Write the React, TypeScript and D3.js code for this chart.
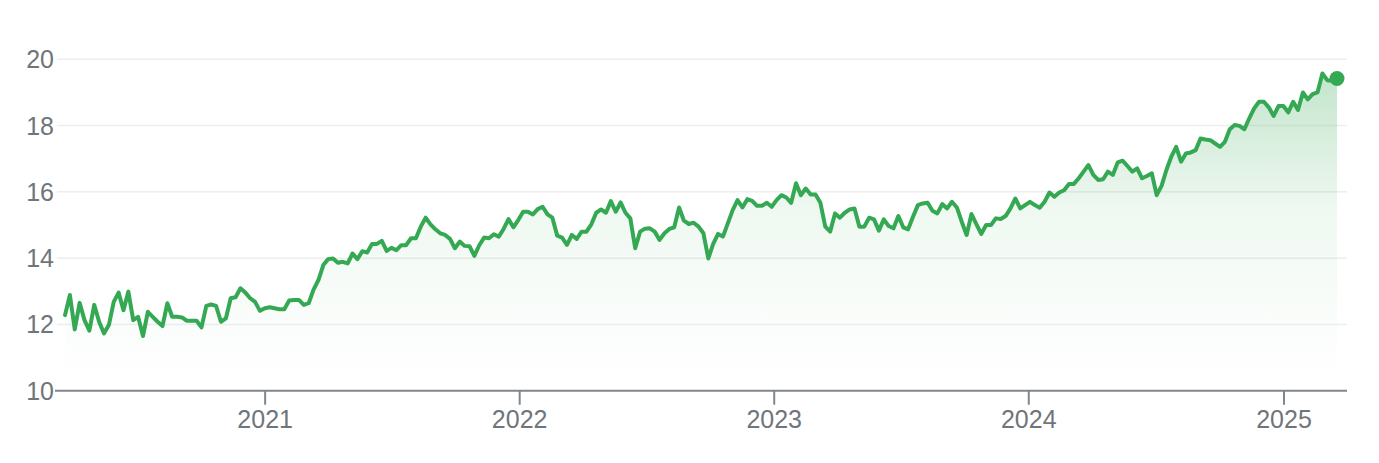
import React from "react";
import * as d3 from "d3";

// Weekly closing values (Mar 2020 -> Mar 2025)
const startDate = "2020-03-20";
const endDate = "2025-03-18";

const values2020: number[] = [
  12.28, 12.89, 11.85, 12.65, 12.13, 11.81, 12.59, 12.08, 11.73, 11.98,
  12.68, 12.96, 12.43, 12.99, 12.13, 12.23, 11.65, 12.38, 12.23, 12.08,
  11.95, 12.64, 12.23, 12.23, 12.21, 12.11, 12.11, 12.11, 11.91, 12.56,
  12.6, 12.56, 12.08, 12.18, 12.79, 12.82, 13.09, 12.96, 12.79, 12.68,
  12.41, 12.49, 12.52, 12.49, 12.46, 12.46, 12.72, 12.74, 12.74, 12.59,
  12.64, 13.05,
];
const values2021: number[] = [
  13.34, 13.79, 13.97, 13.99, 13.86, 13.89, 13.84, 14.14, 13.97, 14.21,
  14.17, 14.43, 14.43, 14.52, 14.22, 14.31, 14.24, 14.39, 14.39, 14.6,
  14.6, 14.95, 15.22, 15.02, 14.87, 14.75, 14.7, 14.58, 14.3, 14.5,
  14.37, 14.36, 14.07, 14.39, 14.62, 14.6, 14.72, 14.65, 14.88, 15.18,
  14.93, 15.15, 15.4, 15.4, 15.32, 15.48, 15.55, 15.32, 15.22, 14.68,
  14.62,
];
const values2022: number[] = [
  14.4, 14.7, 14.58, 14.8, 14.8, 15.02, 15.37, 15.47, 15.37, 15.72,
  15.4, 15.68, 15.37, 15.2, 14.3, 14.8, 14.89, 14.9, 14.8, 14.55,
  14.75, 14.88, 14.93, 15.53, 15.13, 15.03, 15.07, 14.95, 14.75, 13.99,
  14.43, 14.73, 14.65, 15.05, 15.45, 15.75, 15.53, 15.78, 15.73, 15.58,
  15.58, 15.67, 15.55, 15.75, 15.9, 15.83, 15.67, 16.26, 15.9,
];
const values2023: number[] = [
  16.1, 15.92, 15.92, 15.67, 14.95, 14.8, 15.35, 15.22, 15.37, 15.47,
  15.5, 14.95, 14.95, 15.22, 15.17, 14.83, 15.17, 14.97, 14.9, 15.27,
  14.93, 14.87, 15.25, 15.6, 15.65, 15.67, 15.43, 15.35, 15.63, 15.5,
  15.7, 15.53, 15.1, 14.7, 15.33, 15.03, 14.73, 15.0, 15.0, 15.2,
  15.18, 15.27, 15.5, 15.8, 15.5, 15.6, 15.7, 15.6, 15.52,
];
const values2024: number[] = [
  15.7, 15.98, 15.85, 15.98, 16.05, 16.24, 16.24, 16.41, 16.61, 16.81,
  16.51, 16.36, 16.38, 16.61, 16.51, 16.89, 16.94, 16.78, 16.61, 16.71,
  16.41, 16.48, 16.56, 15.9, 16.18, 16.66, 17.06, 17.36, 16.91, 17.16,
  17.19, 17.26, 17.61, 17.58, 17.56, 17.46, 17.36, 17.51, 17.89, 18.02,
  17.99, 17.89, 18.22, 18.52, 18.72, 18.72, 18.55, 18.29, 18.59, 18.59,
  18.4, 18.72, 18.47, 19.0, 18.79, 18.95, 19.0, 19.57, 19.37, 19.35,
  19.42,
];

const yTicks = [10, 12, 14, 16, 18, 20];
const xTickYears = [2021, 2022, 2023, 2024, 2025];

const W = 1379;
const H = 463;
const GREEN = "#34a853";
const LABEL = "#70757a";
const FONT = "Arial, 'Liberation Sans', Helvetica, sans-serif";

export default function App() {
  React.useEffect(() => {
    document.body.style.margin = "0";
  }, []);

  const values = [
    ...values2020,
    ...values2021,
    ...values2022,
    ...values2023,
    ...values2024,
  ];
  const t0 = new Date(startDate + "T00:00:00");
  const t1 = new Date(endDate + "T00:00:00");
  const n = values.length;
  const data = values.map((v, i) => ({
    date: new Date(t0.getTime() + ((t1.getTime() - t0.getTime()) * i) / (n - 1)),
    value: v,
  }));

  const x = d3.scaleTime().domain([t0, t1]).range([65, 1337]);
  const y = d3.scaleLinear().domain([10, 20]).range([390.7, 59.3]);

  const line = d3
    .line<{ date: Date; value: number }>()
    .x((d) => x(d.date))
    .y((d) => y(d.value));
  const area = d3
    .area<{ date: Date; value: number }>()
    .x((d) => x(d.date))
    .y0(y(10))
    .y1((d) => y(d.value));

  const last = data[data.length - 1];
  const gridX0 = 57;
  const gridX1 = 1347;

  return (
    <svg
      width={W}
      height={H}
      style={{ position: "absolute", left: 0, top: 0, background: "#fff" }}
    >
      <defs>
        <linearGradient
          id="fillGrad"
          gradientUnits="userSpaceOnUse"
          x1={0}
          x2={0}
          y1={y(20)}
          y2={y(10)}
        >
          <stop offset="0%" stopColor={GREEN} stopOpacity={0.32} />
          <stop offset="45%" stopColor={GREEN} stopOpacity={0.08} />
          <stop offset="85%" stopColor={GREEN} stopOpacity={0.015} />
          <stop offset="100%" stopColor={GREEN} stopOpacity={0.0} />
        </linearGradient>
      </defs>

      {yTicks
        .filter((t) => t !== 10)
        .map((t) => (
          <line
            key={"g" + t}
            x1={gridX0}
            x2={gridX1}
            y1={y(t)}
            y2={y(t)}
            stroke="#eeeeee"
            strokeWidth={1.5}
          />
        ))}

      {yTicks.map((t) => (
        <text
          key={"yl" + t}
          x={54}
          y={y(t)}
          dy="0.36em"
          textAnchor="end"
          fontFamily={FONT}
          fontSize={25}
          fill={LABEL}
        >
          {t}
        </text>
      ))}

      <path d={area(data) || ""} fill="url(#fillGrad)" />

      <line
        x1={55}
        x2={gridX1}
        y1={y(10)}
        y2={y(10)}
        stroke="#80868b"
        strokeWidth={2}
      />

      {xTickYears.map((yr) => {
        const xx = x(new Date(yr, 0, 1));
        return (
          <g key={"xt" + yr}>
            <line
              x1={xx}
              x2={xx}
              y1={y(10)}
              y2={y(10) + 14}
              stroke="#80868b"
              strokeWidth={2}
            />
            <text
              x={xx}
              y={428}
              textAnchor="middle"
              fontFamily={FONT}
              fontSize={25}
              fill={LABEL}
            >
              {yr}
            </text>
          </g>
        );
      })}

      <path
        d={line(data) || ""}
        fill="none"
        stroke={GREEN}
        strokeWidth={4}
        strokeLinejoin="round"
        strokeLinecap="round"
      />
      <circle cx={x(last.date)} cy={y(last.value)} r={7.5} fill={GREEN} />
    </svg>
  );
}
